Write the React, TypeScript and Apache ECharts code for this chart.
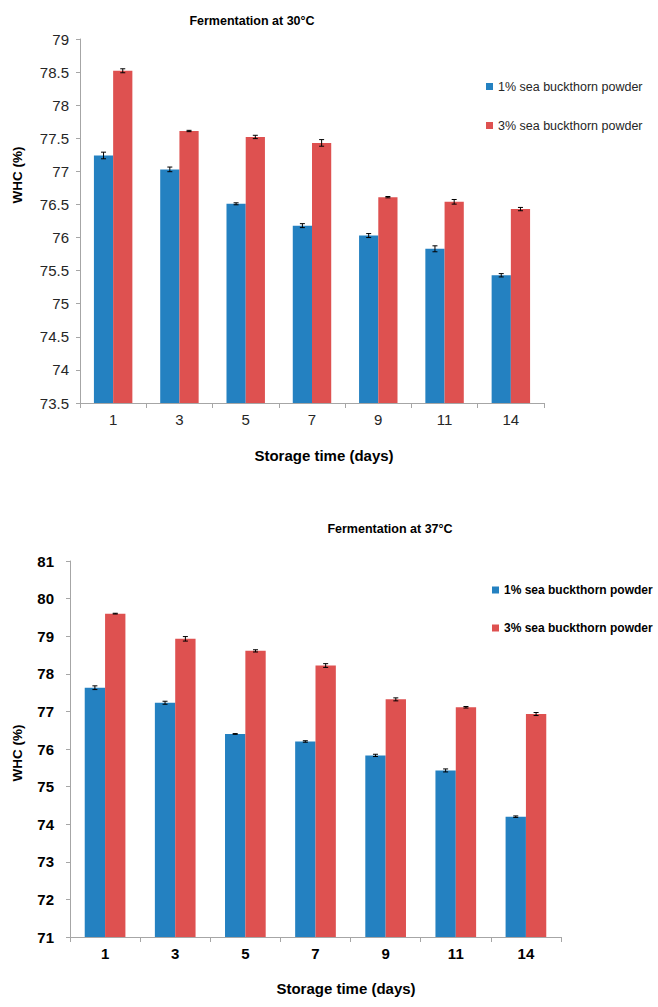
import React, { useEffect, useRef } from "react";
import * as echarts from "echarts";

const days = ["1", "3", "5", "7", "9", "11", "14"];
const seriesNames = ["1% sea buckthorn powder", "3% sea buckthorn powder"];

// Fermentation at 30°C
const t30Low = [77.24, 77.03, 76.51, 76.18, 76.03, 75.83, 75.43];
const t30LowErr = [0.05, 0.035, 0.015, 0.03, 0.03, 0.045, 0.025];
const t30High = [78.52, 77.61, 77.52, 77.43, 76.61, 76.54, 76.43];
const t30HighErr = [0.03, 0.01, 0.025, 0.05, 0.01, 0.035, 0.025];

// Fermentation at 37°C
const t37Low = [77.63, 77.23, 76.4, 76.2, 75.83, 75.43, 74.2];
const t37LowErr = [0.05, 0.04, 0.01, 0.02, 0.03, 0.04, 0.02];
const t37High = [79.6, 78.93, 78.61, 78.22, 77.32, 77.11, 76.93];
const t37HighErr = [0.01, 0.06, 0.03, 0.05, 0.04, 0.02, 0.04];

const BLUE = "#2481c1";
const RED = "#de5150";
const FONT = "'Liberation Sans', Arial, sans-serif";

function errSeries(vals: number[], errs: number[], gi: number, side: number) {
  return {
    type: "custom",
    xAxisIndex: gi,
    yAxisIndex: gi,
    silent: true,
    z: 5,
    encode: { x: 0, y: 1 },
    data: vals.map((v, i) => [i, v, errs[i]]),
    renderItem: (params: any, api: any) => {
      const idx = api.value(0);
      const v = api.value(1);
      const e = api.value(2);
      const bw = api.size([1, 0])[0];
      const off = bw * 0.145 * side;
      const top = api.coord([idx, v + e]);
      const bot = api.coord([idx, v - e]);
      const cx = top[0] + off;
      const cap = 2.5;
      const st = { stroke: "#000", lineWidth: 1 };
      return {
        type: "group",
        children: [
          { type: "line", shape: { x1: cx, y1: top[1], x2: cx, y2: bot[1] }, style: st },
          { type: "line", shape: { x1: cx - cap, y1: top[1], x2: cx + cap, y2: top[1] }, style: st },
          { type: "line", shape: { x1: cx - cap, y1: bot[1], x2: cx + cap, y2: bot[1] }, style: st },
        ],
      };
    },
  };
}

function barSeries(name: string, vals: number[], gi: number, color: string) {
  return {
    type: "bar",
    name,
    xAxisIndex: gi,
    yAxisIndex: gi,
    data: vals,
    barWidth: "29%",
    barGap: "0%",
    itemStyle: { color },
  };
}

export default function App() {
  const ref = useRef<HTMLDivElement>(null);
  useEffect(() => {
    if (!ref.current) return;
    const chart = echarts.init(ref.current, null, { renderer: "svg" });
    const axisLine = { lineStyle: { color: "#a6a6a6", width: 1 } };
    chart.setOption({
      animation: false,
      backgroundColor: "#fff",
      textStyle: { fontFamily: FONT },
      grid: [
        { left: 80, top: 39, width: 464, height: 364 },
        { left: 70, top: 561, width: 491, height: 376 },
      ],
      xAxis: [
        {
          type: "category",
          gridIndex: 0,
          data: days,
          axisLine,
          axisTick: { show: true, length: 5, lineStyle: { color: "#a6a6a6" } },
          axisLabel: { fontSize: 15, color: "#262626", margin: 9, fontFamily: FONT },
        },
        {
          type: "category",
          gridIndex: 1,
          data: days,
          axisLine,
          axisTick: { show: true, length: 5, lineStyle: { color: "#a6a6a6" } },
          axisLabel: { fontSize: 15, fontWeight: "bold", color: "#000", margin: 9, fontFamily: FONT },
        },
      ],
      yAxis: [
        {
          type: "value",
          gridIndex: 0,
          min: 73.5,
          max: 79,
          interval: 0.5,
          axisLine: { show: true, ...axisLine },
          axisTick: { show: true, length: 4, lineStyle: { color: "#a6a6a6" } },
          splitLine: { show: false },
          axisLabel: { fontSize: 15, color: "#262626", margin: 11, fontFamily: FONT },
        },
        {
          type: "value",
          gridIndex: 1,
          min: 71,
          max: 81,
          interval: 1,
          axisLine: { show: true, ...axisLine },
          axisTick: { show: true, length: 4, lineStyle: { color: "#a6a6a6" } },
          splitLine: { show: false },
          axisLabel: { fontSize: 15, fontWeight: "bold", color: "#000", margin: 16, fontFamily: FONT },
        },
      ],
      legend: [
        {
          orient: "vertical",
          left: 481,
          top: 75,
          itemGap: 26,
          itemWidth: 7,
          itemHeight: 7,
          icon: "rect",
          data: seriesNames,
          textStyle: { fontSize: 12.5, color: "#262626", fontFamily: FONT },
        },
        {
          orient: "vertical",
          left: 487,
          top: 579,
          itemGap: 26,
          itemWidth: 7,
          itemHeight: 7,
          icon: "rect",
          data: seriesNames,
          textStyle: { fontSize: 12, fontWeight: "bold", color: "#000", fontFamily: FONT },
        },
      ],
      graphic: [
        {
          type: "text",
          x: 252,
          y: 21,
          style: {
            text: "Fermentation at 30°C",
            font: `bold 12.5px ${FONT}`,
            fill: "#000",
            align: "center",
            verticalAlign: "middle",
          },
        },
        {
          type: "text",
          x: 390,
          y: 529,
          style: {
            text: "Fermentation at 37°C",
            font: `bold 12.5px ${FONT}`,
            fill: "#000",
            align: "center",
            verticalAlign: "middle",
          },
        },
        {
          type: "text",
          x: 324,
          y: 455,
          style: {
            text: "Storage time (days)",
            font: `bold 15px ${FONT}`,
            fill: "#000",
            align: "center",
            verticalAlign: "middle",
          },
        },
        {
          type: "text",
          x: 346,
          y: 988,
          style: {
            text: "Storage time (days)",
            font: `bold 15px ${FONT}`,
            fill: "#000",
            align: "center",
            verticalAlign: "middle",
          },
        },
        {
          type: "text",
          x: 17,
          y: 175,
          rotation: Math.PI / 2,
          style: {
            text: "WHC (%)",
            font: `bold 13.5px ${FONT}`,
            fill: "#000",
            align: "center",
            verticalAlign: "middle",
          },
        },
        {
          type: "text",
          x: 17,
          y: 753,
          rotation: Math.PI / 2,
          style: {
            text: "WHC (%)",
            font: `bold 13.5px ${FONT}`,
            fill: "#000",
            align: "center",
            verticalAlign: "middle",
          },
        },
      ],
      series: [
        barSeries(seriesNames[0], t30Low, 0, BLUE),
        barSeries(seriesNames[1], t30High, 0, RED),
        barSeries(seriesNames[0], t37Low, 1, BLUE),
        barSeries(seriesNames[1], t37High, 1, RED),
        errSeries(t30Low, t30LowErr, 0, -1),
        errSeries(t30High, t30HighErr, 0, 1),
        errSeries(t37Low, t37LowErr, 1, -1),
        errSeries(t37High, t37HighErr, 1, 1),
      ],
    });
    return () => chart.dispose();
  }, []);
  return (
    <div
      ref={ref}
      style={{ position: "absolute", left: 0, top: 0, width: 658, height: 1007 }}
    />
  );
}
